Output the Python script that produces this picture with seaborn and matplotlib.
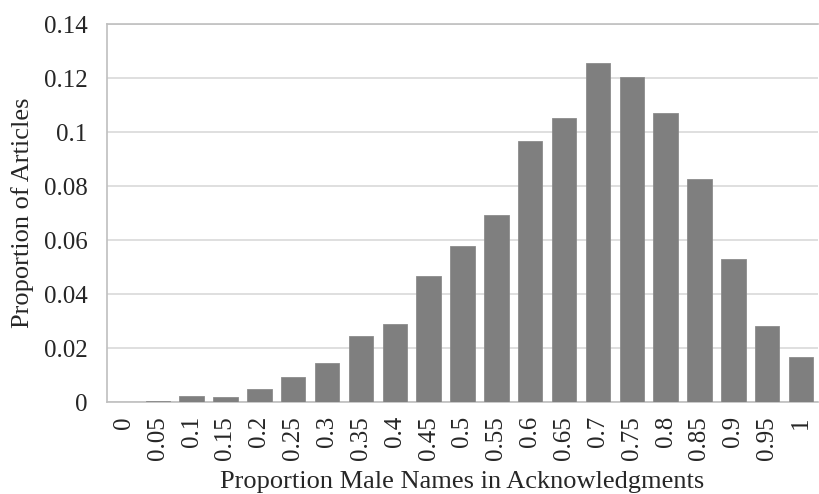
import matplotlib
matplotlib.use("Agg")
import matplotlib.pyplot as plt
import seaborn as sns
import pandas as pd
import numpy as np

# categories (proportion male names) and share of articles
categories = ["0", "0.05", "0.1", "0.15", "0.2", "0.25", "0.3", "0.35", "0.4", "0.45",
              "0.5", "0.55", "0.6", "0.65", "0.7", "0.75", "0.8", "0.85", "0.9", "0.95", "1"]
proportions = [0.0, 0.0003, 0.0023, 0.0019, 0.005, 0.0093, 0.0145, 0.0245, 0.029, 0.0468,
               0.0577, 0.0694, 0.0968, 0.1054, 0.1258, 0.1205, 0.107, 0.0826, 0.053, 0.0283, 0.0168]
y_ticks = [0, 0.02, 0.04, 0.06, 0.08, 0.1, 0.12, 0.14]
y_tick_labels = ["0", "0.02", "0.04", "0.06", "0.08", "0.1", "0.12", "0.14"]

df = pd.DataFrame({"bin": categories, "share": proportions})

sns.set_style("white")
plt.rcParams["font.family"] = ["Liberation Serif", "DejaVu Serif"]

fig = plt.figure(figsize=(8.2, 4.94), dpi=100)
ax = fig.add_axes([0.1305, 0.186, 0.867, 0.765])

sns.barplot(data=df, x="bin", y="share", color="#7f7f7f", saturation=1,
            width=0.72, edgecolor="#8c8c8c", linewidth=0.6, ax=ax, zorder=3)

ax.set_ylim(0, 0.14)
ax.set_xlim(-0.5, len(categories) - 0.5)
ax.set_yticks(y_ticks)
ax.set_yticklabels(y_tick_labels, fontsize=18)
ax.set_xticks(range(len(categories)))
ax.set_xticklabels(categories, rotation=90, fontsize=18)
ax.set_xticks(np.arange(-0.5, len(categories), 1), minor=True)
ax.tick_params(axis="x", which="major", length=0, pad=10)
ax.tick_params(axis="x", which="minor", length=4.5, color="#bfbfbf", width=1)
ax.tick_params(axis="y", length=0, pad=14)

ax.yaxis.grid(True, color="#d9d9d9", linewidth=1.2, zorder=0)
ax.set_axisbelow(True)

for side in ["top", "left", "bottom"]:
    ax.spines[side].set_color("#bfbfbf")
    ax.spines[side].set_linewidth(1.2)
ax.spines["right"].set_visible(False)

ax.set_xlabel("Proportion Male Names in Acknowledgments", fontsize=19, labelpad=8)
ax.set_ylabel("Proportion of Articles", fontsize=19, labelpad=7)

fig.savefig("out.png", dpi=100)
